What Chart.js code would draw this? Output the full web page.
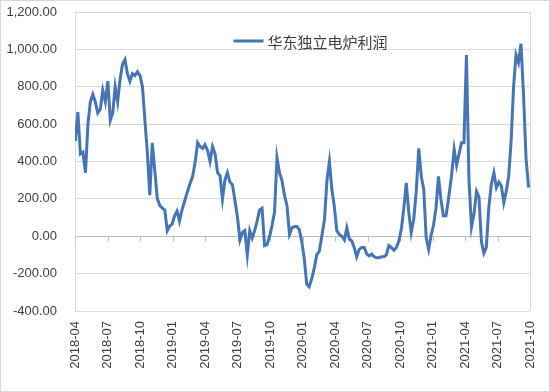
<!DOCTYPE html>
<html lang="zh">
<head>
    <meta charset="UTF-8">
    <title>华东独立电炉利润</title>
    <script src="https://cdn.jsdelivr.net/npm/chart.js"></script>
    <style>
        body {
            margin: 0;
            background-color: #fff;
        }

        #wrap {
            width: 550px;
            height: 392px;
        }

        canvas {
            outline: 1px solid #d9d9d9;
            outline-offset: -1px;
        }
    </style>
</head>
<body>

    <div id="wrap">
        <canvas id="profitChart" width="550" height="392"></canvas>
    </div>

    <script>
        // weekly readings, first one on 2018-04-02
        const seriesName = '华东独立电炉利润';
        const firstWeek = '2018-04-02';
        const profit = [
            510, 665, 440, 450, 340, 600, 720, 760, 720, 660,
            680, 780, 720, 830, 620, 660, 800, 720, 840, 920,
            945, 870, 830, 870, 860, 880, 860, 800, 620, 450,
            220, 500, 350, 200, 165, 150, 140, 30, 55, 65,
            110, 135, 80, 140, 185, 235, 280, 320, 400, 500,
            480, 470, 490, 460, 400, 480, 440, 340, 325, 200,
            300, 340, 290, 275, 190, 100, -20, 20, 30, -100,
            30, -10, 30, 80, 140, 150, -50, -45, 0, 60,
            130, 420, 340, 300, 220, 165, 10, 45, 52, 52,
            35, -30, -120, -255, -270, -230, -175, -100, -80, 5,
            90, 300, 400, 250, 160, 30, 10, 0, -20, 45,
            -15, -25, -60, -110, -70, -60, -60, -95, -105, -95,
            -110, -115, -115, -110, -110, -100, -50, -60, -75, -60,
            -25, 40, 150, 285, 130, 20, 90, 240, 470, 320,
            250, -10, -70, 5, 60, 150, 320, 200, 110, 110,
            210, 320, 465, 380, 440, 500, 500, 970, 300, 50,
            120, 240, 210, -30, -90, -60, 155, 280, 340, 260,
            290, 270, 180, 240, 320, 510, 800, 970, 930, 1030,
            760, 420, 260
        ];

        // x axis: months counted from 2018-04, one label every quarter
        const axisStartYear = 2018;
        const axisStartMonth = 4;
        const axisMonths = 42;
        const yMin = -400;
        const yMax = 1200;
        const yStep = 200;

        const blue = '#4575b5';
        const textColor = '#404040';
        const gridColor = '#d9d9d9';

        function monthOffset(d) {
            const y = d.getUTCFullYear();
            const m = d.getUTCMonth();
            const days = new Date(Date.UTC(y, m + 1, 0)).getUTCDate();
            return (y - axisStartYear) * 12 + m - (axisStartMonth - 1) + (d.getUTCDate() - 1) / days;
        }

        function monthLabel(v) {
            const total = axisStartMonth - 1 + Math.round(v);
            const y = axisStartYear + Math.floor(total / 12);
            const m = total % 12 + 1;
            return y + '-' + (m < 10 ? '0' + m : m);
        }

        const start = new Date(firstWeek + 'T00:00:00Z');
        const points = profit.map((v, i) => {
            const d = new Date(start.getTime() + i * 7 * 86400000);
            return { x: monthOffset(d), y: v };
        });

        // horizontal axis line at zero with small quarter ticks
        const zeroAxis = {
            id: 'zeroAxis',
            beforeDatasetsDraw(chart) {
                const { ctx, chartArea, scales } = chart;
                const y0 = Math.round(scales.y.getPixelForValue(0)) + 0.5;
                ctx.save();
                ctx.strokeStyle = '#bfbfbf';
                ctx.lineWidth = 1;
                ctx.beginPath();
                ctx.moveTo(chartArea.left, y0);
                ctx.lineTo(chartArea.right, y0);
                scales.x.ticks.forEach(t => {
                    const x = Math.round(scales.x.getPixelForValue(t.value)) + 0.5;
                    ctx.moveTo(x, y0);
                    ctx.lineTo(x, y0 + 5);
                });
                ctx.stroke();
                ctx.restore();
            }
        };

        // legend sitting inside the plot, near the top
        const innerLegend = {
            id: 'innerLegend',
            afterDraw(chart) {
                const { ctx, chartArea } = chart;
                const ds = chart.data.datasets[0];
                ctx.save();
                ctx.font = '15px "Noto Sans CJK SC", sans-serif';
                const tw = ctx.measureText(ds.label).width;
                const total = 30 + 4 + tw;
                const cx = (chartArea.left + chartArea.right) / 2 + 8;
                const x0 = cx - total / 2;
                const y = chartArea.top + 29;
                ctx.strokeStyle = ds.borderColor;
                ctx.lineWidth = ds.borderWidth;
                ctx.beginPath();
                ctx.moveTo(x0, y);
                ctx.lineTo(x0 + 30, y);
                ctx.stroke();
                ctx.fillStyle = textColor;
                ctx.textBaseline = 'middle';
                ctx.fillText(ds.label, x0 + 34, y + 1);
                ctx.restore();
            }
        };

        Chart.defaults.font.family = '"Liberation Sans", Arial, "Noto Sans CJK SC", sans-serif';
        Chart.defaults.color = textColor;

        const ctx = document.getElementById('profitChart').getContext('2d');
        const profitChart = new Chart(ctx, {
            type: 'line',
            data: {
                datasets: [{
                    label: seriesName,
                    data: points,
                    borderColor: blue,
                    backgroundColor: blue,
                    borderWidth: 3,
                    pointRadius: 0,
                    tension: 0,
                    fill: false
                }]
            },
            options: {
                responsive: false,
                animation: false,
                layout: {
                    padding: { left: 6, right: 20, top: 12, bottom: 22 }
                },
                plugins: {
                    legend: { display: false },
                    tooltip: { enabled: false }
                },
                scales: {
                    x: {
                        type: 'linear',
                        min: 0,
                        max: axisMonths,
                        border: { display: false },
                        afterFit: s => {
                            s.height = 59;
                            s.paddingLeft = 0;
                            s.paddingRight = 0;
                        },
                        grid: {
                            drawTicks: false,
                            color: c => c.tick && c.tick.value === axisMonths ? gridColor : 'rgba(0,0,0,0)'
                        },
                        ticks: {
                            stepSize: 3,
                            minRotation: 90,
                            maxRotation: 90,
                            padding: 10,
                            color: textColor,
                            font: { size: 13 },
                            callback: v => monthLabel(v)
                        }
                    },
                    y: {
                        min: yMin,
                        max: yMax,
                        border: { color: gridColor },
                        afterFit: s => {
                            s.width = 69;
                            s.paddingTop = 0;
                            s.paddingBottom = 0;
                        },
                        grid: {
                            color: gridColor,
                            drawTicks: false
                        },
                        ticks: {
                            stepSize: yStep,
                            padding: 18,
                            color: textColor,
                            font: { size: 13 },
                            callback: v => v.toLocaleString('en-US', { minimumFractionDigits: 2, maximumFractionDigits: 2 })
                        }
                    }
                }
            },
            plugins: [zeroAxis, innerLegend]
        });
    </script>

</body>
</html>
